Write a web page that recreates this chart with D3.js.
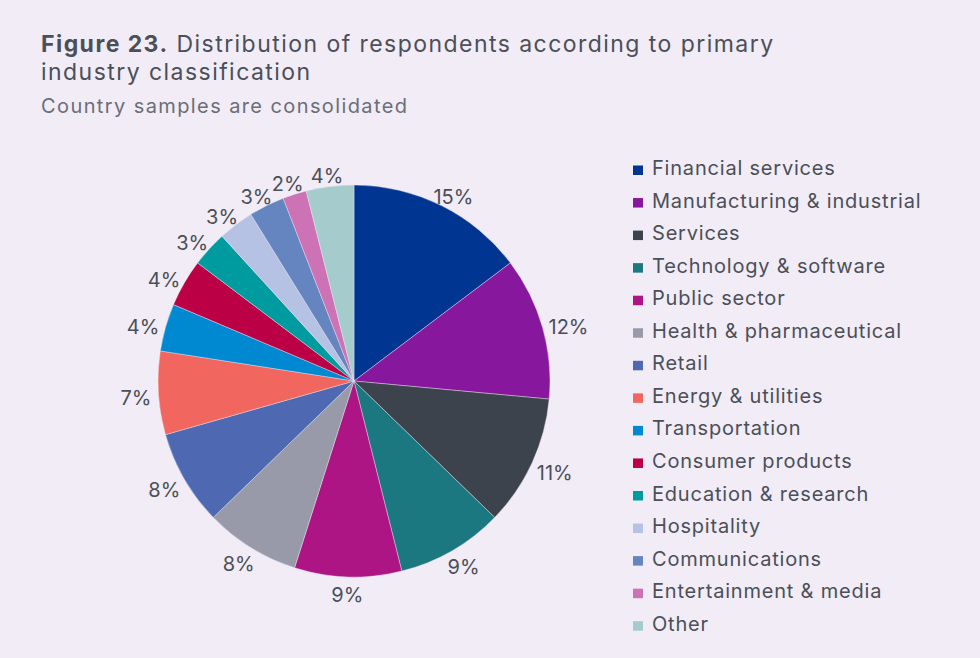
<!DOCTYPE html>
<html>
<head>
<meta charset="utf-8">
<script src="https://cdn.jsdelivr.net/npm/d3@7/dist/d3.min.js"></script>
<style>
  html, body { margin: 0; padding: 0; background: #f1ecf6; }
  svg { display: block; }
  text { font-family: "Inter", "Open Sans", sans-serif; fill: #4b4f58; }
</style>
</head>
<body>
<svg id="chart" width="980" height="658"></svg>
<script>
// Industry categories, in drawing order (clockwise from 12 o'clock)
const categories = [
  "Financial services", "Manufacturing & industrial", "Services",
  "Technology & software", "Public sector", "Health & pharmaceutical",
  "Retail", "Energy & utilities", "Transportation", "Consumer products",
  "Education & research", "Hospitality", "Communications",
  "Entertainment & media", "Other"
];
// Share of respondents, percent
const shares = [15, 12, 11, 9, 9, 8, 8, 7, 4, 4, 3, 3, 3, 2, 4];
const colors = [
  "#003591", "#87189d", "#3d434d", "#1c7880", "#ad1484", "#989aaa",
  "#4e69b2", "#f26660", "#0089d0", "#bb0045", "#009b9e", "#b6c2e4",
  "#6585c0", "#cc72b5", "#a6cbcc"
];

const svg = d3.select("#chart");
const data = categories.map((c, i) => ({ name: c, value: shares[i] }));
const color = d3.scaleOrdinal().domain(categories).range(colors);

// Title block
const title = svg.append("text").attr("x", 41).attr("y", 52)
  .style("font-size", "23px").style("letter-spacing", "1.45px");
title.append("tspan").style("font-weight", 700).text("Figure 23.");
title.append("tspan").text(" Distribution of respondents according to primary");
svg.append("text").attr("x", 41).attr("y", 80)
  .style("font-size", "23px").style("letter-spacing", "1.45px")
  .text("industry classification");
svg.append("text").attr("x", 41).attr("y", 113)
  .style("font-size", "20px").style("letter-spacing", "1.4px")
  .style("fill", "#6a6e76")
  .text("Country samples are consolidated");

// Pie
const cx = 354, cy = 381, r = 196, labelR = 203;
const pie = d3.pie().value(d => d.value).sort(null);
const arc = d3.arc().innerRadius(0).outerRadius(r);
const g = svg.append("g").attr("transform", `translate(${cx},${cy})`);
const arcs = pie(data);

g.selectAll("path").data(arcs).join("path")
  .attr("d", arc)
  .attr("fill", d => color(d.data.name))
  .attr("stroke", "#f1ecf6").attr("stroke-width", 0.4);

// Percentage labels: the label box sits just outside the rim, pushed out
// along the slice's mid-angle by half its own extent.
const labels = g.selectAll("text.lbl").data(arcs).join("text")
  .attr("class", "lbl")
  .attr("text-anchor", "middle")
  .attr("dominant-baseline", "central")
  .style("font-size", "20px")
  .text(d => d.data.value + "%");
labels.each(function(d) {
  const w = this.getBBox().width;
  const h = 15;
  const a = (d.startAngle + d.endAngle) / 2;
  const sx = Math.sin(a), sy = -Math.cos(a);
  const x = labelR * sx + sx * w / 2;
  const y = labelR * sy + sy * h / 2 + 4;
  d3.select(this).attr("transform", `translate(${x},${y})`);
});

// Legend
const legend = svg.append("g").attr("transform", "translate(633,175)");
const rows = legend.selectAll("g").data(categories).join("g")
  .attr("transform", (d, i) => `translate(0,${i * 32.55})`);
rows.append("rect").attr("x", 0).attr("y", -9.5).attr("width", 10).attr("height", 9.5)
  .attr("fill", d => color(d));
rows.append("text").attr("x", 19).attr("y", 0)
  .style("font-size", "20px").style("letter-spacing", "0.8px")
  .text(d => d);
</script>
</body>
</html>
